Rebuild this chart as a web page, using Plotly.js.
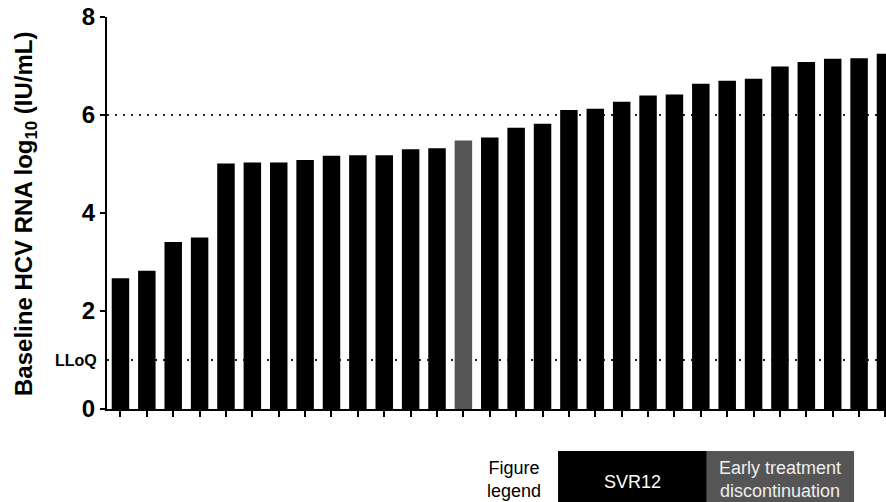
<!DOCTYPE html>
<html>
<head>
<meta charset="utf-8">
<script src="https://cdn.plot.ly/plotly-3.0.1.min.js"></script>
<style>html,body{margin:0;padding:0;background:#fff}#chart{width:886px;height:502px}</style>
</head>
<body>
<div id="chart"></div>
<script>
// Patient index (sorted by baseline viral load)
const patients = [1,2,3,4,5,6,7,8,9,10,11,12,13,14,15,16,17,18,19,20,21,22,23,24,25,26,27,28,29,30];
// Baseline HCV RNA, log10 IU/mL
const baselineLog10 = [2.67,2.82,3.41,3.50,5.01,5.03,5.03,5.08,5.17,5.18,5.18,5.30,5.32,5.48,5.54,5.74,5.82,6.10,6.13,6.27,6.40,6.42,6.64,6.70,6.74,6.99,7.08,7.15,7.16,7.25];
// Outcome per patient
const outcomes = ['SVR12','SVR12','SVR12','SVR12','SVR12','SVR12','SVR12','SVR12','SVR12','SVR12','SVR12','SVR12','SVR12','Early','SVR12','SVR12','SVR12','SVR12','SVR12','SVR12','SVR12','SVR12','SVR12','SVR12','SVR12','SVR12','SVR12','SVR12','SVR12','SVR12'];
const outcomeColors = {SVR12: '#000000', Early: '#555555'};
const yTickVals = [0,2,4,6,8];
const refLines = [6, 1];
const lloqValue = 1;

const FONT = 'Liberation Sans, Arial, Helvetica, sans-serif';

const trace = {
  type: 'bar',
  x: patients,
  y: baselineLog10,
  marker: {color: outcomes.map(o => outcomeColors[o]), line: {width: 0}},
  hoverinfo: 'none'
};

const shapes = refLines.map(v => ({
  type: 'line', xref: 'paper', yref: 'y', x0: 0, x1: 1, y0: v, y1: v,
  layer: 'below', line: {color: '#222', width: 2, dash: '2px,6px'}
}));
// legend boxes
shapes.push({type: 'rect', xref: 'paper', yref: 'paper', x0: 0.579, x1: 0.770, y0: -0.107, y1: -0.26, fillcolor: '#000', line: {width: 0}, layer: 'above'});
shapes.push({type: 'rect', xref: 'paper', yref: 'paper', x0: 0.770, x1: 0.959, y0: -0.107, y1: -0.26, fillcolor: '#555555', line: {width: 0}, layer: 'above'});

const layout = {
  width: 886, height: 502,
  margin: {l: 107, r: 0, t: 17, b: 93, pad: 0},
  paper_bgcolor: '#fff', plot_bgcolor: '#fff',
  font: {family: FONT, color: '#000'},
  showlegend: false,
  bargap: 0.337,
  xaxis: {
    range: [0.49, 30.02], tickvals: patients, showticklabels: false,
    ticks: 'outside', ticklen: 6, tickwidth: 2, tickcolor: '#000',
    showline: true, linecolor: '#000', linewidth: 2, showgrid: false, zeroline: false, fixedrange: true
  },
  yaxis: {
    range: [0, 8], tickvals: yTickVals, ticktext: yTickVals.map(String),
    ticks: 'outside', ticklen: 5, tickwidth: 2, tickcolor: '#000',
    tickfont: {family: FONT, size: 24, weight: 'bold', color: '#000'},
    showline: true, linecolor: '#000', linewidth: 2, showgrid: false, zeroline: false, fixedrange: true
  },
  shapes: shapes,
  annotations: [
    {xref: 'paper', yref: 'paper', x: -0.1053, y: 0.5, xanchor: 'center', yanchor: 'middle', textangle: -90, showarrow: false,
     text: 'Baseline HCV RNA log<sub>10</sub> (IU/mL)', font: {family: FONT, size: 24, weight: 'bold', color: '#000'}},
    {xref: 'paper', yref: 'y', x: -0.0103, y: lloqValue, xanchor: 'right', yanchor: 'middle', showarrow: false,
     text: 'LLoQ', font: {family: FONT, size: 16, weight: 'bold', color: '#000'}},
    {xref: 'paper', yref: 'paper', x: 0.523, y: -0.18, xanchor: 'center', yanchor: 'middle', showarrow: false,
     text: 'Figure<br>legend', font: {family: FONT, size: 18, color: '#000'}},
    {xref: 'paper', yref: 'paper', x: 0.674, y: -0.186, xanchor: 'center', yanchor: 'middle', showarrow: false,
     text: 'SVR12', font: {family: FONT, size: 18, color: '#fff'}},
    {xref: 'paper', yref: 'paper', x: 0.864, y: -0.18, xanchor: 'center', yanchor: 'middle', showarrow: false,
     text: 'Early treatment<br>discontinuation', font: {family: FONT, size: 18, color: '#eeeeee'}}
  ]
};

Plotly.newPlot('chart', [trace], layout, {staticPlot: true, displayModeBar: false});
</script>
</body>
</html>
